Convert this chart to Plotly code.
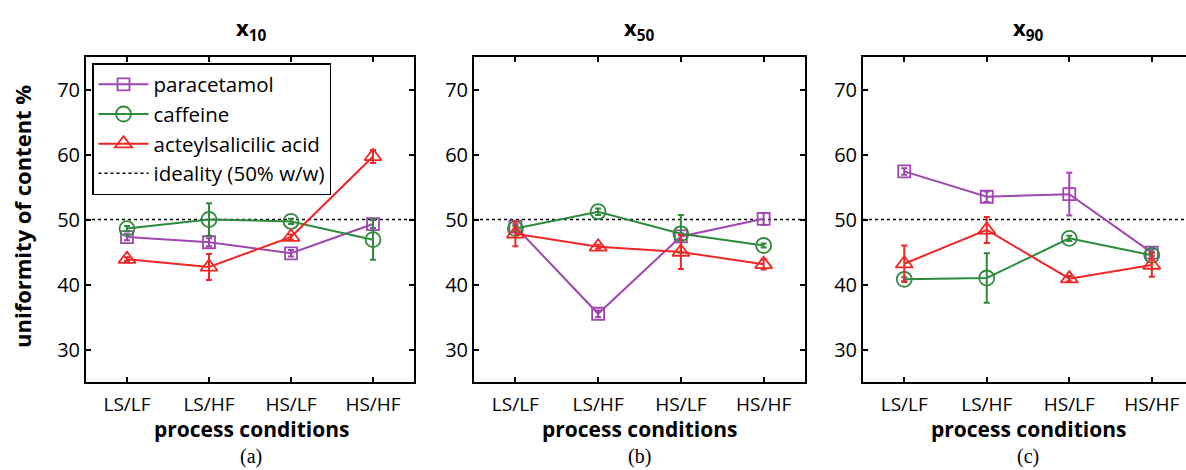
import plotly.graph_objects as go

CATEGORIES = ["LS/LF", "LS/HF", "HS/LF", "HS/HF"]
PANEL_TITLES = ["x<sub>10</sub>", "x<sub>50</sub>", "x<sub>90</sub>"]
PANEL_LABELS = ["(a)", "(b)", "(c)"]
SERIES_NAMES = ["paracetamol", "caffeine", "acteylsalicilic acid"]
IDEALITY = 50

# panel (a) x10
PARA_X10 = [47.3, 46.5, 44.8, 49.3]
PARA_X10_ERR = [0.5, 0.6, 0.5, 0.6]
CAF_X10 = [48.6, 50.0, 49.7, 46.9]
CAF_X10_ERR = [0.4, 2.5, 0.4, 3.1]
ASA_X10 = [43.9, 42.7, 47.3, 59.7]
ASA_X10_ERR = [0.3, 2.0, 0.4, 1.0]

# panel (b) x50
PARA_X50 = [48.9, 35.5, 47.4, 50.1]
PARA_X50_ERR = [0.4, 0.5, 0.5, 0.9]
CAF_X50 = [48.6, 51.2, 47.8, 46.0]
CAF_X50_ERR = [0.4, 0.5, 2.9, 0.3]
ASA_X50 = [47.8, 45.8, 45.0, 43.1]
ASA_X50_ERR = [1.9, 0.3, 2.6, 0.8]

# panel (c) x90
PARA_X90 = [57.4, 53.5, 53.9, 44.9]
PARA_X90_ERR = [0.5, 0.8, 3.3, 0.5]
CAF_X90 = [40.8, 41.0, 47.1, 44.5]
CAF_X90_ERR = [0.3, 3.8, 0.4, 0.5]
ASA_X90 = [43.2, 48.4, 40.9, 43.0]
ASA_X90_ERR = [2.8, 2.0, 0.4, 1.8]

PANELS = [
    [(PARA_X10, PARA_X10_ERR), (CAF_X10, CAF_X10_ERR), (ASA_X10, ASA_X10_ERR)],
    [(PARA_X50, PARA_X50_ERR), (CAF_X50, CAF_X50_ERR), (ASA_X50, ASA_X50_ERR)],
    [(PARA_X90, PARA_X90_ERR), (CAF_X90, CAF_X90_ERR), (ASA_X90, ASA_X90_ERR)],
]

COLORS = ["#9E47B0", "#2E8A3C", "#F22626"]
SYMBOLS = ["square-open", "circle-open", "triangle-up-open"]
SIZES = [12, 15, 15]

W, H = 1186, 470
X_DOMAINS = [(86, 414), (474, 805), (863, 1186)]
X_RANGES = [(-0.5, 3.5), (-0.5, 3.5), (-0.5, 3.5 - 7 / 82.0)]
Y_TOP, Y_BOT = 57, 382

FONT = "Open Sans"

fig = go.Figure()

for p, series in enumerate(PANELS):
    ax = "" if p == 0 else str(p + 1)
    for s, (vals, errs) in enumerate(series):
        fig.add_trace(go.Scatter(
            x=CATEGORIES, y=vals,
            xaxis="x" + ax, yaxis="y" + ax,
            mode="lines+markers",
            name=SERIES_NAMES[s],
            showlegend=(p == 0),
            line=dict(color=COLORS[s], width=2),
            marker=dict(symbol=SYMBOLS[s], size=SIZES[s], color=COLORS[s],
                        line=dict(width=1.8, color=COLORS[s])),
            error_y=dict(type="data", array=errs, visible=True,
                         color=COLORS[s], thickness=2, width=3),
        ))
    fig.add_shape(type="line", xref="x" + ax + " domain", yref="y" + ax,
                  x0=0, x1=1, y0=IDEALITY, y1=IDEALITY,
                  line=dict(color="black", width=1.6, dash="dot"), layer="below")

# legend entry for ideality line
fig.add_trace(go.Scatter(x=[None], y=[None], mode="lines",
                         name="ideality (50% w/w)", showlegend=True,
                         line=dict(color="black", width=1.6, dash="dot")))

layout = dict(
    width=W, height=H,
    margin=dict(l=0, r=0, t=0, b=0),
    paper_bgcolor="white", plot_bgcolor="white",
    font=dict(family=FONT, color="black"),
    legend=dict(x=92 / W, y=1 - 63 / H, xanchor="left", yanchor="top",
                bordercolor="black", borderwidth=1.5, bgcolor="white",
                font=dict(size=20.5, family=FONT), tracegroupgap=0,
                itemwidth=50),
    annotations=[],
)

for p in range(3):
    ax = "" if p == 0 else str(p + 1)
    x0, x1 = X_DOMAINS[p]
    layout["xaxis" + ax] = dict(
        domain=[x0 / W, x1 / W], anchor="y" + ax,
        type="category", range=list(X_RANGES[p]),
        showline=True, linecolor="black", linewidth=2, mirror="ticks",
        ticks="inside", ticklen=5, tickwidth=1.5, tickcolor="black",
        showgrid=False, zeroline=False, ticklabelstandoff=4,
        tickfont=dict(size=19, family=FONT),
    )
    layout["yaxis" + ax] = dict(
        domain=[1 - Y_BOT / H, 1 - Y_TOP / H], anchor="x" + ax,
        range=[25, 75], tickvals=[30, 40, 50, 60, 70],
        showline=True, linecolor="black", linewidth=2,
        mirror=("ticks" if p < 2 else False),
        ticks="inside", ticklen=5, tickwidth=1.5, tickcolor="black",
        showgrid=False, zeroline=False, ticklabelstandoff=0,
        tickfont=dict(size=20, family=FONT),
    )
    cx = (x0 + (x0 + 330)) / 2 / W
    layout["annotations"].append(dict(
        text="<b>" + PANEL_TITLES[p] + "</b>", x=cx, y=1 - 29 / H,
        xref="paper", yref="paper", showarrow=False,
        font=dict(size=22, family=FONT), xanchor="center", yanchor="middle"))
    layout["annotations"].append(dict(
        text="<b>process conditions</b>", x=cx, y=1 - 429 / H,
        xref="paper", yref="paper", showarrow=False,
        font=dict(size=21, family=FONT), xanchor="center", yanchor="middle"))
    layout["annotations"].append(dict(
        text=PANEL_LABELS[p], x=cx, y=0,
        xref="paper", yref="paper", showarrow=False,
        font=dict(size=20, family="Liberation Serif"), xanchor="center", yanchor="bottom"))

layout["annotations"].append(dict(
    text="<b>uniformity of content %</b>", x=22 / W, y=1 - 217 / H,
    xref="paper", yref="paper", showarrow=False, textangle=-90,
    font=dict(size=22, family=FONT), xanchor="center", yanchor="middle"))

fig.update_layout(**layout)
fig.write_html("out.html")
